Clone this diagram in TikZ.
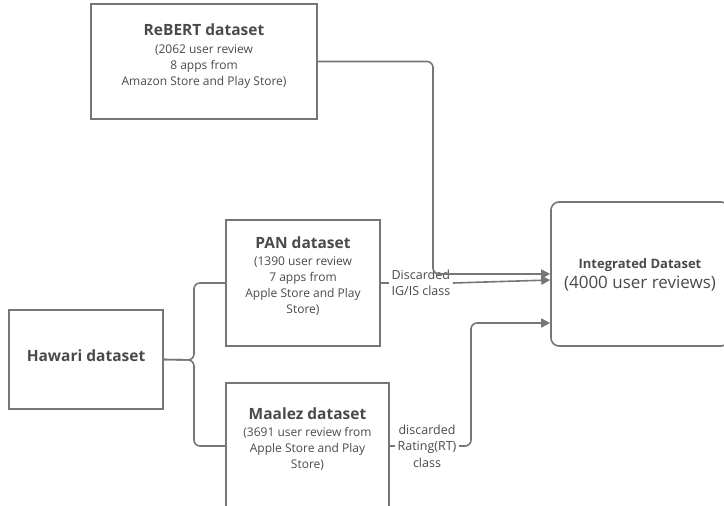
\documentclass[tikz,border=0pt]{standalone}
\usepackage{fontspec}
\setmainfont{Open Sans}
\usepackage{xcolor}
\usetikzlibrary{arrows.meta}
\definecolor{ink}{HTML}{4A4A4A}
\definecolor{edge}{HTML}{767676}
\newcommand{\hdfont}{\fontsize{15.5}{20}\selectfont\bfseries}
\newcommand{\txfont}{\fontsize{12}{16}\selectfont}

\begin{document}
\begin{tikzpicture}[x=1pt,y=-1pt,
        box/.style={rectangle,draw=edge,line width=1.6pt},
        txt/.style={align=center,text=ink,font=\txfont,inner sep=0pt},
        lbl/.style={text=ink,font=\fontsize{12.5}{16.5}\selectfont,inner sep=2.5pt},
        conn/.style={draw=edge,line width=1.6pt,rounded corners=6pt},
        arrow/.style={conn,-{Triangle[length=9pt,width=9pt]}}]
    \clip (0,0) rectangle (724,506);
    % source boxes
    \node[box,minimum width=226pt,minimum height=115pt] (rebert) at (204,61.5) {};
    \node[txt] (reberttxt) at (204,56) {{\hdfont ReBERT dataset}\\[2pt] (2062 user review\\ 8 apps from\\ Amazon Store and Play Store)};
    \node[box,minimum width=154pt,minimum height=126pt] (pan) at (303,283) {};
    \node[txt] (pantxt) at (303,276) {{\hdfont PAN dataset}\\[1pt] (1390 user review\\ 7 apps from\\ Apple Store and Play\\ Store)};
    \node[box,minimum width=154pt,minimum height=99pt] (hawari) at (86,359.5) {};
    \node[txt] (hawaritxt) at (86,356) {\hdfont Hawari dataset};
    \node[box,minimum width=163pt,minimum height=160pt] (maalez) at (307.5,463) {};
    \node[txt] (maaleztxt) at (307.5,439) {{\hdfont Maalez dataset}\\[1pt] (3691 user review from\\ Apple Store and Play\\ Store)};
    % target
    \node[box,rounded corners=8pt,minimum width=178pt,minimum height=144pt] (integ) at (640,274) {};
    \node[txt] (integtxt) at (640,275) {{\fontsize{13}{17}\selectfont\bfseries Integrated Dataset}\\[4pt] {\fontsize{17}{20}\selectfont (4000 user reviews)}};
    % labels
    \node[lbl,align=left,fill=white] (panlbl) at (421,283) {Discarded\\ IG/IS class};
    \node[lbl,align=center] (rtlbl) at (427,446) {discarded\\ Rating(RT)\\ class};
    \coordinate (fork) at (194,360);
    \coordinate (rebturn) at (433,274);
    \coordinate (rtturn) at (471,323);
    \coordinate (panin) at (551,280);
    % connectors
    \draw[conn] (hawari.east) -- (fork) |- (pan.west);
    \draw[conn] (hawari.east) -- (fork) |- (maalez.west |- rtlbl);
    \draw[conn] (pan.east) -- (panlbl.west);
    \draw[arrow] (panlbl.east) -- (integ.west |- panin);
    \draw[arrow] (rebert.east) -| (rebturn) -- (integ.west |- rebturn);
    \draw[conn] (maalez.east |- rtlbl) -- (rtlbl.west);
    \draw[arrow] (rtlbl.east) -| (rtturn) -- (integ.west |- rtturn);
\end{tikzpicture}
\end{document}
